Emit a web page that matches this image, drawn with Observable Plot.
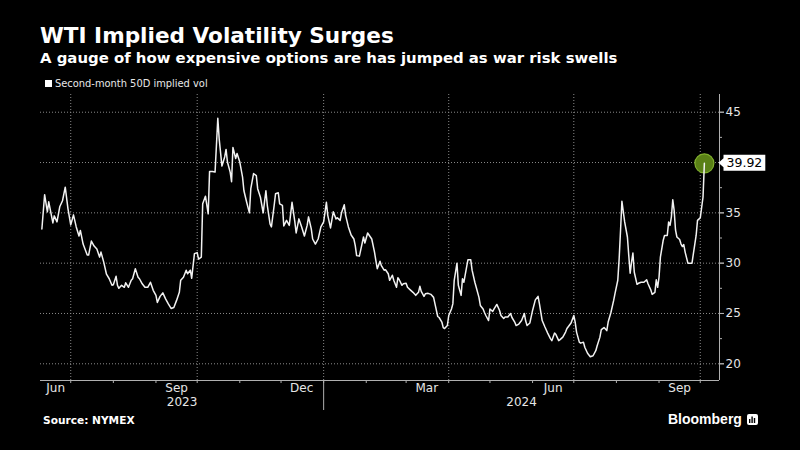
<!DOCTYPE html>
<html>
<head>
<meta charset="utf-8">
<script src="https://cdn.jsdelivr.net/npm/d3@7"></script>
<script src="https://cdn.jsdelivr.net/npm/@observablehq/plot@0.6"></script>
<style>
  html, body { margin: 0; padding: 0; background: #000; }
  #wrap { position: relative; width: 800px; height: 450px; background: #000; overflow: hidden; font-family: "DejaVu Sans", sans-serif; color: #fff; }
  .abs { position: absolute; white-space: nowrap; }
  #title { left: 40px; top: 25px; font-size: 21.6px; line-height: 21.6px; font-weight: bold; }
  #subtitle { left: 40px; top: 51px; font-size: 14.9px; line-height: 14.9px; font-weight: bold; }
  #legend { left: 45px; top: 78.5px; font-size: 9.9px; line-height: 9.9px; color: #e8e8e8; }
  #legend .sw { display: inline-block; width: 7px; height: 7px; background: #fff; margin-right: 3px; vertical-align: 0px; }
  #chart { left: 0; top: 90px; }
  #source { left: 43px; top: 415px; font-size: 10.6px; line-height: 10.6px; font-weight: bold; }
  #brand { left: 668px; top: 412px; font-family: "Liberation Sans", Arial, sans-serif; font-size: 14px; line-height: 14px; font-weight: bold; }
  #brand svg { vertical-align: -1px; margin-left: 5px; }
</style>
</head>
<body>
<div id="wrap">
  <div id="title" class="abs">WTI Implied Volatility Surges</div>
  <div id="subtitle" class="abs">A gauge of how expensive options are has jumped as war risk swells</div>
  <div id="legend" class="abs"><span class="sw"></span>Second-month 50D implied vol</div>
  <div id="chart" class="abs"></div>
  <div id="source" class="abs">Source: NYMEX</div>
  <div id="brand" class="abs">Bloomberg<svg width="11" height="11" viewBox="0 0 11 11"><rect x="0" y="0" width="11" height="11" rx="2" fill="#fff"/><rect x="2" y="5" width="1.4" height="4" fill="#000"/><rect x="4.4" y="2.5" width="1.4" height="6.5" fill="#000"/><rect x="6.8" y="4" width="1.4" height="5" fill="#000"/></svg></div>
</div>
<script>
const dates = [
"2023-06-10","2023-06-12","2023-06-14","2023-06-15","2023-06-17","2023-06-18","2023-06-19","2023-06-21","2023-06-23","2023-06-25","2023-06-27","2023-06-29",
"2023-07-01","2023-07-03","2023-07-05","2023-07-07","2023-07-08","2023-07-10","2023-07-13","2023-07-14","2023-07-16","2023-07-18","2023-07-20","2023-07-22","2023-07-23","2023-07-25","2023-07-27","2023-07-29","2023-07-31",
"2023-08-01","2023-08-03","2023-08-04","2023-08-05","2023-08-07","2023-08-09","2023-08-10","2023-08-12","2023-08-14","2023-08-15","2023-08-17","2023-08-19","2023-08-20","2023-08-22","2023-08-24","2023-08-26","2023-08-28","2023-08-30",
"2023-09-01","2023-09-02","2023-09-04","2023-09-06","2023-09-08","2023-09-10","2023-09-12","2023-09-14","2023-09-16","2023-09-18","2023-09-19","2023-09-21","2023-09-23","2023-09-24","2023-09-26","2023-09-27","2023-09-29",
"2023-10-01","2023-10-02","2023-10-04","2023-10-05","2023-10-07","2023-10-09","2023-10-10","2023-10-12","2023-10-14","2023-10-16","2023-10-17","2023-10-19","2023-10-21","2023-10-22","2023-10-23","2023-10-25","2023-10-26","2023-10-27","2023-10-29","2023-10-30",
"2023-11-01","2023-11-03","2023-11-04","2023-11-06","2023-11-08","2023-11-09","2023-11-11","2023-11-13","2023-11-14","2023-11-16","2023-11-18","2023-11-20","2023-11-21","2023-11-23","2023-11-24","2023-11-26","2023-11-27","2023-11-29","2023-11-30",
"2023-12-02","2023-12-03","2023-12-05","2023-12-07","2023-12-08","2023-12-09","2023-12-11","2023-12-12","2023-12-14","2023-12-16","2023-12-18","2023-12-20","2023-12-21","2023-12-23","2023-12-24","2023-12-26","2023-12-28","2023-12-30",
"2024-01-01","2024-01-03","2024-01-04","2024-01-06","2024-01-08","2024-01-10","2024-01-11","2024-01-13","2024-01-14","2024-01-16","2024-01-17","2024-01-19","2024-01-21","2024-01-23","2024-01-24","2024-01-25","2024-01-27","2024-01-30","2024-01-31",
"2024-02-02","2024-02-05","2024-02-07","2024-02-08","2024-02-09","2024-02-11","2024-02-12","2024-02-14","2024-02-15","2024-02-17","2024-02-18","2024-02-20","2024-02-21","2024-02-23","2024-02-24","2024-02-25","2024-02-27","2024-02-28",
"2024-03-01","2024-03-02","2024-03-04","2024-03-06","2024-03-08","2024-03-10","2024-03-11","2024-03-12","2024-03-14","2024-03-15","2024-03-17","2024-03-19","2024-03-21","2024-03-22","2024-03-24","2024-03-25","2024-03-27","2024-03-28","2024-03-29","2024-03-31",
"2024-04-01","2024-04-03","2024-04-04","2024-04-05","2024-04-07","2024-04-08","2024-04-10","2024-04-11","2024-04-12","2024-04-14","2024-04-15","2024-04-17","2024-04-18","2024-04-20","2024-04-21","2024-04-23","2024-04-24","2024-04-26","2024-04-27","2024-04-28","2024-04-30",
"2024-05-01","2024-05-03","2024-05-04","2024-05-06","2024-05-08","2024-05-09","2024-05-11","2024-05-12","2024-05-14","2024-05-16","2024-05-17","2024-05-19","2024-05-20","2024-05-22","2024-05-24","2024-05-26","2024-05-27","2024-05-28","2024-05-30",
"2024-06-01","2024-06-03","2024-06-05","2024-06-06","2024-06-08","2024-06-10","2024-06-12","2024-06-14","2024-06-15","2024-06-17","2024-06-18","2024-06-20","2024-06-21","2024-06-23","2024-06-25","2024-06-26","2024-06-29",
"2024-07-01","2024-07-02","2024-07-03","2024-07-05","2024-07-06","2024-07-08","2024-07-09","2024-07-11","2024-07-13","2024-07-15","2024-07-17","2024-07-18","2024-07-20","2024-07-21","2024-07-23","2024-07-25","2024-07-26","2024-07-28","2024-07-30","2024-07-31",
"2024-08-02","2024-08-03","2024-08-04","2024-08-05","2024-08-07","2024-08-09","2024-08-10","2024-08-11","2024-08-12","2024-08-13","2024-08-14","2024-08-16","2024-08-17","2024-08-19","2024-08-21","2024-08-23","2024-08-24","2024-08-26","2024-08-27","2024-08-29","2024-08-30","2024-08-31",
"2024-09-01","2024-09-02","2024-09-04","2024-09-05","2024-09-07","2024-09-08","2024-09-09","2024-09-10","2024-09-11","2024-09-12","2024-09-13","2024-09-14","2024-09-16","2024-09-17","2024-09-18","2024-09-19","2024-09-20","2024-09-22","2024-09-23","2024-09-25","2024-09-26","2024-09-28","2024-09-29",
"2024-10-01","2024-10-03","2024-10-04"
];
const vols = [
33.4,36.8,35.1,36.1,34.7,34.0,34.7,34.1,35.6,36.2,37.55,35.4,
33.8,34.8,33.6,32.7,33.25,31.9,30.8,30.8,32.2,31.7,31.4,30.6,31.1,30.1,28.9,28.45,27.8,
27.85,28.7,27.8,27.5,27.8,27.6,28.05,27.6,28.3,28.45,29.45,28.6,28.45,27.95,27.6,27.6,28.1,27.3,
26.8,26.1,26.7,27.05,26.45,25.95,25.5,25.6,26.3,27.1,28.3,28.6,29.3,28.95,29.3,28.5,30.95,
31.05,30.4,30.6,35.9,36.65,34.9,39.1,39.1,39.05,44.4,42.35,39.65,40.55,41.3,40.05,39.05,38.1,41.5,40.4,40.9,
40.05,38.55,37.2,36.05,35.0,37.4,38.9,38.7,37.4,36.55,35.0,37.2,35.75,33.9,33.6,35.75,36.9,37.0,35.9,
35.75,33.7,34.25,33.75,34.9,36.05,34.15,33.0,34.4,33.6,32.7,33.75,34.6,33.4,32.4,31.9,32.4,33.6,
34.1,36.05,34.75,33.5,35.1,34.4,34.5,34.25,35.0,35.8,34.75,33.6,32.8,32.4,31.75,30.75,30.7,32.6,32.0,
33.0,32.4,31.1,30.25,29.45,30.2,29.75,29.3,29.35,28.95,28.3,28.8,28.3,27.6,28.55,28.35,27.8,27.95,
28.0,27.6,27.35,27.1,26.8,27.1,27.7,27.2,26.7,26.95,27.0,26.9,26.6,25.95,24.7,24.6,24.15,23.6,23.5,23.8,
24.8,25.45,25.95,28.3,30.0,27.8,26.8,28.45,28.1,29.6,30.35,30.35,29.3,28.1,27.6,26.6,25.8,25.45,25.1,24.8,24.3,
25.45,25.2,25.45,25.9,25.3,24.8,24.5,24.65,24.65,25.0,24.6,24.15,23.8,23.95,24.3,25.0,24.25,23.8,24.05,
25.3,26.35,26.7,25.95,24.3,23.65,23.05,22.5,22.3,23.05,22.9,22.3,22.4,22.65,23.15,23.5,24.05,
24.8,24.15,23.15,22.15,22.05,22.15,21.65,21.05,20.7,20.8,21.3,21.8,22.65,23.4,23.6,23.3,24.15,25.1,26.3,27.0,
28.3,30.45,33.25,36.15,34.1,32.6,30.75,29.0,30.1,31.0,29.1,27.9,28.0,28.1,28.1,28.35,27.95,27.35,26.9,27.1,28.35,27.6,
28.6,30.6,32.25,32.75,32.75,34.1,33.75,34.6,36.3,35.25,33.3,32.6,32.35,31.9,31.65,31.85,31.1,30.0,30.0,30.0,30.95,32.75,34.25,
34.5,36.55,39.92
];

const xDomain = [new Date("2023-06-09"), new Date("2024-10-15")];
const yDomain = [18.34, 46.76];
const yTicks = [20, 25, 30, 35, 40, 45];
const yTickLabels = [20, 25, 30, 35, 45]; // 40 sits under the last-value callout
const yMinorTicks = [22.5, 27.5, 32.5, 37.5, 42.5];
const monthLabels = ["Jun", "Sep", "Dec", "Mar", "Jun", "Sep"];
const monthLabelDates = ["2023-06-20", "2023-09-16", "2023-12-16", "2024-03-16", "2024-06-16", "2024-09-16"];
const yearLabels = ["2023", "2024"];
const yearLabelDates = ["2023-09-20", "2024-05-24"];
const yearBreak = ["2024-01-01"];

const data = dates.map((d, i) => ({date: new Date(d), vol: vols[i]}));
const last = data[data.length - 1];
const monthTicks = d3.utcMonth.range(new Date("2023-07-01"), new Date("2024-10-02"));
const quarterTicks = d3.utcMonth.every(3).range(new Date("2023-07-01"), new Date("2024-10-02"));

const grid = {stroke: "#8a8a8a", strokeOpacity: 1, strokeWidth: 1, strokeDasharray: "1,2"};
const axisStroke = "#b0b0b0";

const chart = Plot.plot({
  width: 800,
  height: 322,
  marginLeft: 40,
  marginRight: 81,
  marginTop: 4,
  marginBottom: 32,
  style: {background: "#000", color: "#e0e0e0", fontFamily: "DejaVu Sans, sans-serif", fontSize: "12px", overflow: "visible"},
  x: {type: "utc", domain: xDomain, axis: null},
  y: {domain: yDomain, axis: null},
  marks: [
    Plot.gridY(yTicks, grid),
    Plot.gridX(quarterTicks, grid),
    Plot.ruleY([yDomain[0]], {stroke: axisStroke, strokeWidth: 1}),
    Plot.ruleX([xDomain[1]], {stroke: axisStroke, strokeWidth: 1}),
    Plot.axisY(yTicks, {anchor: "right", tickSize: 4, tickFormat: () => "", stroke: axisStroke, label: null}),
    Plot.axisY(yTickLabels, {anchor: "right", tickSize: 4, tickPadding: 2, stroke: axisStroke, fill: "#e6e6e6", fontSize: 12, label: null}),
    Plot.axisY(yMinorTicks, {anchor: "right", tickSize: 2, tickFormat: () => "", stroke: axisStroke, label: null}),
    Plot.axisX(monthTicks, {anchor: "bottom", tickSize: 3, tickFormat: () => "", stroke: axisStroke, label: null}),
    Plot.axisX(yearBreak.map(d => new Date(d)), {anchor: "bottom", tickSize: 30, tickFormat: () => "", stroke: axisStroke, label: null}),
    Plot.text(monthLabels, {x: monthLabelDates.map(d => new Date(d)), text: d => d, frameAnchor: "bottom", lineAnchor: "top", dy: 3, fill: "#e6e6e6", fontSize: 12}),
    Plot.text(yearLabels, {x: yearLabelDates.map(d => new Date(d)), text: d => d, frameAnchor: "bottom", lineAnchor: "top", dy: 17, fill: "#e6e6e6", fontSize: 12}),
    Plot.dot([last], {x: "date", y: "vol", r: 9.5, fill: "#5a8016", stroke: "#7fae2c", strokeWidth: 1.2}),
    Plot.line(data, {x: "date", y: "vol", stroke: "#f2f2f2", strokeWidth: 1.5, strokeLinejoin: "round"}),
    Plot.text([last], {x: xDomain[1], y: "vol", text: d => d.vol.toFixed(2), textAnchor: "start", dx: 7, fill: "#000", fontSize: 12.5})
  ]
});

document.getElementById("chart").appendChild(chart);

// white callout box with a pointer behind the last-value label
const label = Array.from(chart.querySelectorAll("text")).find(t => t.textContent === last.vol.toFixed(2));
if (label) {
  const b = label.getBBox();
  const x0 = b.x - 3, x1 = b.x + b.width + 3, y0 = b.y - 0.5, y1 = b.y + b.height + 0.5, cy = (y0 + y1) / 2;
  const p = document.createElementNS("http://www.w3.org/2000/svg", "path");
  p.setAttribute("d", `M${x0 - 5},${cy}L${x0},${cy - 4.5}L${x0},${y0}L${x1},${y0}L${x1},${y1}L${x0},${y1}L${x0},${cy + 4.5}Z`);
  p.setAttribute("fill", "#fff");
  const t = label.getAttribute("transform");
  const g = label.parentNode;
  const gt = g.getAttribute("transform");
  const tr = [gt, t].filter(Boolean).join(" ");
  if (tr) p.setAttribute("transform", tr);
  g.parentNode.insertBefore(p, g);
}
</script>
</body>
</html>
